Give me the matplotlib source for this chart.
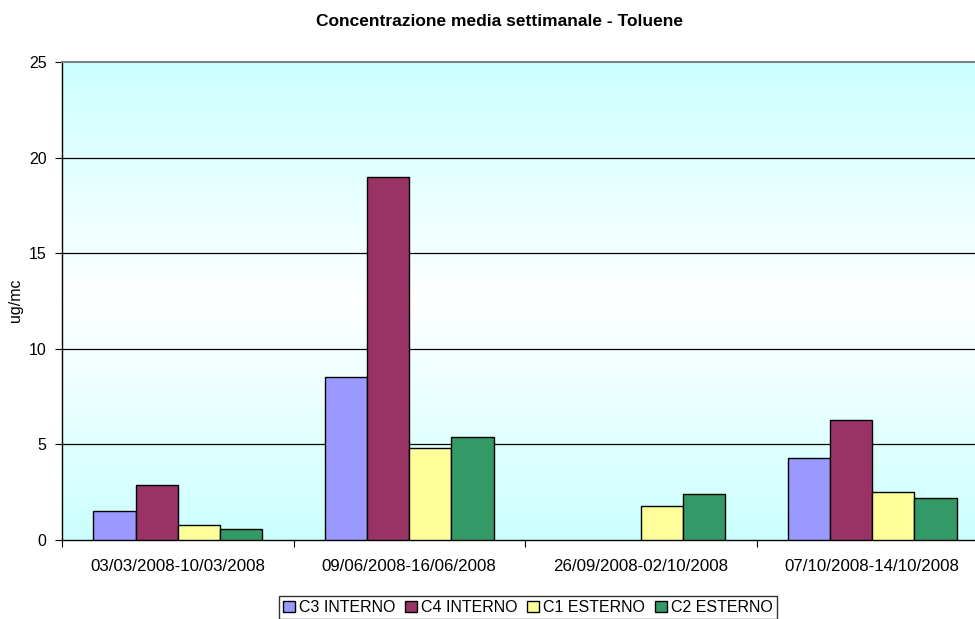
import numpy as np
import matplotlib.pyplot as plt
from matplotlib.colors import LinearSegmentedColormap

plt.rcParams['font.family'] = ['Liberation Sans', 'DejaVu Sans']

periods = ["03/03/2008-10/03/2008", "09/06/2008-16/06/2008",
           "26/09/2008-02/10/2008", "07/10/2008-14/10/2008"]
series_names = ["C3 INTERNO", "C4 INTERNO", "C1 ESTERNO", "C2 ESTERNO"]
c3_interno = [1.5, 8.5, np.nan, 4.3]
c4_interno = [2.9, 19.0, np.nan, 6.3]
c1_esterno = [0.8, 4.8, 1.8, 2.5]
c2_esterno = [0.6, 5.4, 2.4, 2.2]
colors = ["#9999FF", "#993366", "#FFFF99", "#339966"]

fig = plt.figure(figsize=(9.75, 6.19), dpi=100)
# plot area runs a bit past the right edge of the figure
ax = fig.add_axes([62 / 975, 79 / 619, 926 / 975, 478 / 619])

# cyan -> white -> cyan background
bg = LinearSegmentedColormap.from_list("bg", ["#CCFFFF", "#FFFFFF", "#CCFFFF"])
grad = np.linspace(0, 1, 256).reshape(-1, 1)
ax.imshow(grad, cmap=bg, aspect="auto", extent=(-0.5, 3.5, 0, 25),
          zorder=0, interpolation="bicubic")

x = np.arange(len(periods))
w = 0.1823
for i, (vals, name, col) in enumerate(zip(
        [c3_interno, c4_interno, c1_esterno, c2_esterno], series_names, colors)):
    ax.bar(x + (i - 1.5) * w, vals, width=w, color=col, edgecolor="black",
           linewidth=1.0, label=name, zorder=3)

ax.set_xlim(-0.5, 3.5)
ax.set_ylim(0, 25)
ax.set_yticks([0, 5, 10, 15, 20, 25])
for v in [5, 10, 15, 20]:
    ax.axhline(v, color="black", linewidth=0.9, zorder=1)

ax.set_xticks([-0.5, 0.5, 1.5, 2.5, 3.5])
ax.set_xticklabels([])
ax.set_xticks(x, minor=True)
ax.set_xticklabels(periods, minor=True)
ax.tick_params(axis="x", which="minor", length=0, pad=14, labelsize=12.2)
ax.tick_params(axis="x", which="major", length=5, color="black", direction="out")
ax.tick_params(axis="y", length=5, direction="out", labelsize=11.5, pad=6)

for s in ["left", "bottom"]:
    ax.spines[s].set_color("black")
    ax.spines[s].set_linewidth(1.0)
for s in ["top", "right"]:
    ax.spines[s].set_color("#808080")
    ax.spines[s].set_linewidth(1.5)

fig.text(16 / 975, 1 - 300 / 619, "ug/mc", rotation=90,
         ha="center", va="center", fontsize=11.5)
fig.text(500 / 975, 1 - 22 / 619, "Concentrazione media settimanale - Toluene",
         ha="center", va="center", fontsize=12.5, fontweight="bold")

leg = fig.legend(loc="upper center", bbox_to_anchor=(528 / 975, 1 - 596 / 619),
                 ncol=4, fontsize=11.5, frameon=True, fancybox=False,
                 handlelength=0.75, handleheight=0.75, handletextpad=0.25,
                 columnspacing=0.6, borderpad=0.25, borderaxespad=0)
leg.get_frame().set_edgecolor("black")
leg.get_frame().set_linewidth(1.0)

fig.savefig("out.png", dpi=100)
